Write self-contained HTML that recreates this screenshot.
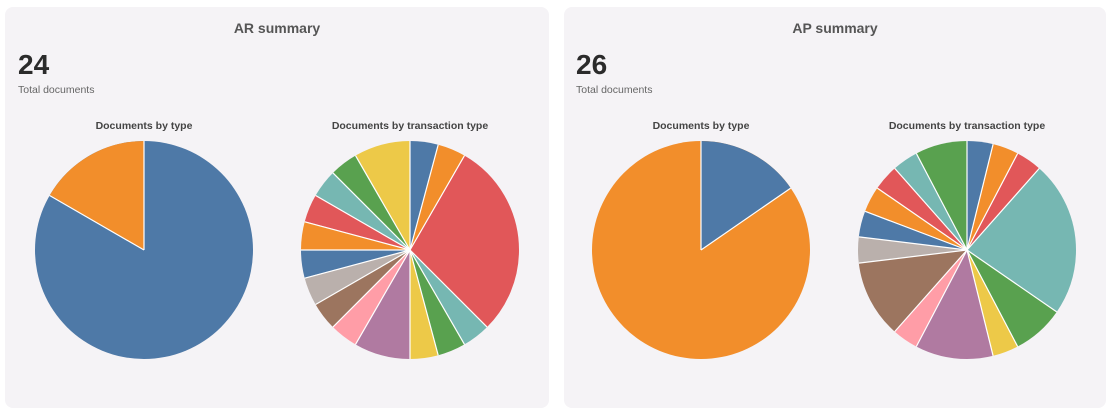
<!DOCTYPE html>
<html><head><meta charset="utf-8"><style>
html,body{margin:0;padding:0;background:#fff;width:1111px;height:417px;overflow:hidden;font-family:"Liberation Sans",sans-serif}
svg{position:absolute;left:0;top:0}
</style></head><body>
<svg width="1111" height="417" viewBox="0 0 1111 417" xmlns="http://www.w3.org/2000/svg">
<rect x="5" y="7" width="544" height="401" rx="8" fill="#f5f3f6"/>
<rect x="564" y="7" width="542" height="401" rx="8" fill="#f5f3f6"/>
<g font-family="Liberation Sans, sans-serif">
<text x="277" y="33" text-anchor="middle" font-size="14" font-weight="bold" fill="#555">AR summary</text>
<text x="835" y="33" text-anchor="middle" font-size="14" font-weight="bold" fill="#555">AP summary</text>
<text x="18" y="74" font-size="28" font-weight="bold" fill="#2b2b2b">24</text>
<text x="576" y="74" font-size="28" font-weight="bold" fill="#2b2b2b">26</text>
<text x="18" y="93" font-size="10.5" fill="#666">Total documents</text>
<text x="576" y="93" font-size="10.5" fill="#666">Total documents</text>
<text x="144" y="129" text-anchor="middle" font-size="10.5" font-weight="bold" fill="#444">Documents by type</text>
<text x="410" y="129" text-anchor="middle" font-size="10.5" font-weight="bold" fill="#444">Documents by transaction type</text>
<text x="701" y="129" text-anchor="middle" font-size="10.5" font-weight="bold" fill="#444">Documents by type</text>
<text x="967" y="129" text-anchor="middle" font-size="10.5" font-weight="bold" fill="#444">Documents by transaction type</text>
</g>
<!-- AR by type -->
<g transform="translate(144,250) rotate(-90)" fill="none" stroke-width="109">
<circle r="109" fill="#4e79a7" stroke="none"/>
<circle r="54.5" stroke="#f28e2b" stroke-dasharray="57.07 400" stroke-dashoffset="-285.36"/>
<g stroke="#fff" stroke-width="1.2"><line x2="109" transform="rotate(0)"/><line x2="109" transform="rotate(300)"/></g>
</g>
<!-- AR by transaction -->
<g transform="translate(410,250) rotate(-90)" fill="none" stroke-width="109">
<circle r="54.5" stroke="#4e79a7" stroke-dasharray="14.27 400" stroke-dashoffset="0"/>
<circle r="54.5" stroke="#f28e2b" stroke-dasharray="14.27 400" stroke-dashoffset="-14.27"/>
<circle r="54.5" stroke="#e15759" stroke-dasharray="99.88 400" stroke-dashoffset="-28.54"/>
<circle r="54.5" stroke="#76b7b2" stroke-dasharray="14.27 400" stroke-dashoffset="-128.41"/>
<circle r="54.5" stroke="#59a14f" stroke-dasharray="14.27 400" stroke-dashoffset="-142.68"/>
<circle r="54.5" stroke="#edc948" stroke-dasharray="14.27 400" stroke-dashoffset="-156.95"/>
<circle r="54.5" stroke="#b07aa1" stroke-dasharray="28.54 400" stroke-dashoffset="-171.22"/>
<circle r="54.5" stroke="#ff9da7" stroke-dasharray="14.27 400" stroke-dashoffset="-199.75"/>
<circle r="54.5" stroke="#9c755f" stroke-dasharray="14.27 400" stroke-dashoffset="-214.02"/>
<circle r="54.5" stroke="#bab0ac" stroke-dasharray="14.27 400" stroke-dashoffset="-228.29"/>
<circle r="54.5" stroke="#4e79a7" stroke-dasharray="14.27 400" stroke-dashoffset="-242.56"/>
<circle r="54.5" stroke="#f28e2b" stroke-dasharray="14.27 400" stroke-dashoffset="-256.82"/>
<circle r="54.5" stroke="#e15759" stroke-dasharray="14.27 400" stroke-dashoffset="-271.09"/>
<circle r="54.5" stroke="#76b7b2" stroke-dasharray="14.27 400" stroke-dashoffset="-285.36"/>
<circle r="54.5" stroke="#59a14f" stroke-dasharray="14.27 400" stroke-dashoffset="-299.63"/>
<circle r="54.5" stroke="#edc948" stroke-dasharray="28.54 400" stroke-dashoffset="-313.90"/>
<g stroke="#fff" stroke-width="1.2">
<line x2="109" transform="rotate(0)"/><line x2="109" transform="rotate(15)"/><line x2="109" transform="rotate(30)"/><line x2="109" transform="rotate(135)"/><line x2="109" transform="rotate(150)"/><line x2="109" transform="rotate(165)"/><line x2="109" transform="rotate(180)"/><line x2="109" transform="rotate(210)"/><line x2="109" transform="rotate(225)"/><line x2="109" transform="rotate(240)"/><line x2="109" transform="rotate(255)"/><line x2="109" transform="rotate(270)"/><line x2="109" transform="rotate(285)"/><line x2="109" transform="rotate(300)"/><line x2="109" transform="rotate(315)"/><line x2="109" transform="rotate(330)"/>
</g>
</g>
<!-- AP by type -->
<g transform="translate(701,250) rotate(-90)" fill="none" stroke-width="109">
<circle r="109" fill="#f28e2b" stroke="none"/>
<circle r="54.5" stroke="#4e79a7" stroke-dasharray="52.68 400" stroke-dashoffset="0"/>
<g stroke="#fff" stroke-width="1.2"><line x2="109" transform="rotate(0)"/><line x2="109" transform="rotate(55.38)"/></g>
</g>
<!-- AP by transaction -->
<g transform="translate(967,250) rotate(-90)" fill="none" stroke-width="109">
<circle r="54.5" stroke="#4e79a7" stroke-dasharray="13.17 400" stroke-dashoffset="0"/>
<circle r="54.5" stroke="#f28e2b" stroke-dasharray="13.17 400" stroke-dashoffset="-13.17"/>
<circle r="54.5" stroke="#e15759" stroke-dasharray="13.17 400" stroke-dashoffset="-26.34"/>
<circle r="54.5" stroke="#76b7b2" stroke-dasharray="79.02 400" stroke-dashoffset="-39.51"/>
<circle r="54.5" stroke="#59a14f" stroke-dasharray="26.34 400" stroke-dashoffset="-118.53"/>
<circle r="54.5" stroke="#edc948" stroke-dasharray="13.17 400" stroke-dashoffset="-144.87"/>
<circle r="54.5" stroke="#b07aa1" stroke-dasharray="39.51 400" stroke-dashoffset="-158.04"/>
<circle r="54.5" stroke="#ff9da7" stroke-dasharray="13.17 400" stroke-dashoffset="-197.55"/>
<circle r="54.5" stroke="#9c755f" stroke-dasharray="39.51 400" stroke-dashoffset="-210.72"/>
<circle r="54.5" stroke="#bab0ac" stroke-dasharray="13.17 400" stroke-dashoffset="-250.23"/>
<circle r="54.5" stroke="#4e79a7" stroke-dasharray="13.17 400" stroke-dashoffset="-263.40"/>
<circle r="54.5" stroke="#f28e2b" stroke-dasharray="13.17 400" stroke-dashoffset="-276.57"/>
<circle r="54.5" stroke="#e15759" stroke-dasharray="13.17 400" stroke-dashoffset="-289.74"/>
<circle r="54.5" stroke="#76b7b2" stroke-dasharray="13.17 400" stroke-dashoffset="-302.91"/>
<circle r="54.5" stroke="#59a14f" stroke-dasharray="26.34 400" stroke-dashoffset="-316.08"/>
<g stroke="#fff" stroke-width="1.2">
<line x2="109" transform="rotate(0)"/><line x2="109" transform="rotate(13.85)"/><line x2="109" transform="rotate(27.69)"/><line x2="109" transform="rotate(41.54)"/><line x2="109" transform="rotate(124.62)"/><line x2="109" transform="rotate(152.31)"/><line x2="109" transform="rotate(166.15)"/><line x2="109" transform="rotate(207.69)"/><line x2="109" transform="rotate(221.54)"/><line x2="109" transform="rotate(263.08)"/><line x2="109" transform="rotate(276.92)"/><line x2="109" transform="rotate(290.77)"/><line x2="109" transform="rotate(304.62)"/><line x2="109" transform="rotate(318.46)"/><line x2="109" transform="rotate(332.31)"/>
</g>
</g>
</svg>
</body></html>
